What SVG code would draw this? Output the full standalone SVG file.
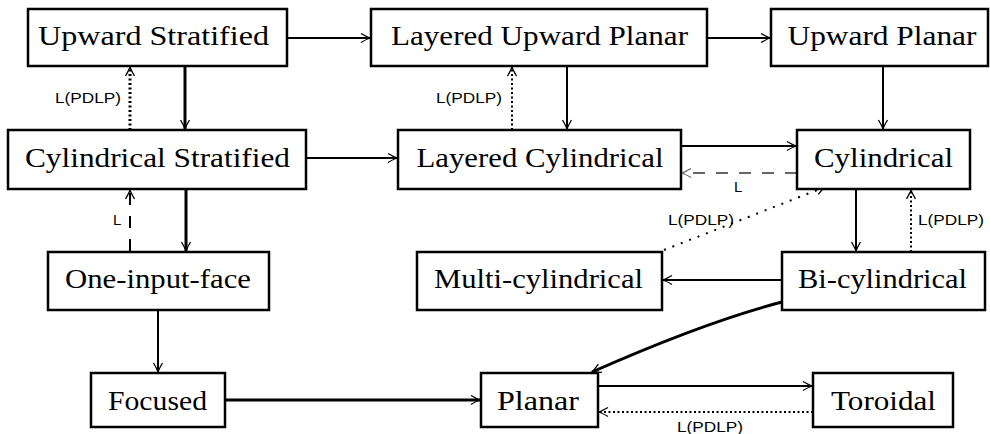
<svg xmlns="http://www.w3.org/2000/svg" width="990" height="434" viewBox="0 0 990 434">
<style>
.box{fill:#fff;stroke:#000;stroke-width:2.5}
.t{font-family:"Liberation Serif",serif;font-size:28px;text-anchor:middle;fill:#000}
.lb{font-family:"Liberation Sans",Arial,sans-serif;font-size:15px;fill:#000}
.e{fill:none;stroke:#000;stroke-width:2}
.thick{stroke-width:3}
.dot{stroke-dasharray:2 2.5}
.dotw{stroke-dasharray:2 7}
.dash{stroke-dasharray:12 11}
.gray{stroke:#666}
</style>
<defs>
<marker id="a" markerUnits="userSpaceOnUse" markerWidth="14" markerHeight="14" viewBox="-11 -7 14 14" refX="0" refY="0" orient="auto" overflow="visible">
<path d="M-9,-4.5 Q-3,-1 0,0 Q-3,1 -9,4.5" fill="none" stroke="#000" stroke-width="1.3"/>
</marker>
<marker id="ag" markerUnits="userSpaceOnUse" markerWidth="14" markerHeight="14" viewBox="-11 -7 14 14" refX="0" refY="0" orient="auto" overflow="visible">
<path d="M-9,-4.5 Q-3,-1 0,0 Q-3,1 -9,4.5" fill="none" stroke="#666" stroke-width="1.3"/>
</marker>
</defs>
<rect width="990" height="434" fill="#fff"/>
<g id="connectors">
<line class="e" x1="287" y1="38" x2="370" y2="38" marker-end="url(#a)"/>
<line class="e" x1="707" y1="38" x2="770" y2="38" marker-end="url(#a)"/>
<line class="e thick" x1="185" y1="66" x2="185" y2="129" marker-end="url(#a)"/>
<line class="e thick dot" x1="130" y1="130" x2="130" y2="67" marker-end="url(#a)"/>
<line class="e" x1="567" y1="66" x2="567" y2="129" marker-end="url(#a)"/>
<line class="e dot" x1="512" y1="130" x2="512" y2="67" marker-end="url(#a)"/>
<line class="e" x1="883" y1="66" x2="883" y2="129" marker-end="url(#a)"/>
<line class="e" x1="306" y1="158" x2="397" y2="158" marker-end="url(#a)"/>
<line class="e" x1="681" y1="146" x2="796" y2="146" marker-end="url(#a)"/>
<line class="e dash gray" x1="797" y1="173" x2="682" y2="173" marker-end="url(#ag)"/>
<line class="e thick" x1="186" y1="189" x2="186" y2="251" marker-end="url(#a)"/>
<line class="e dash" x1="130" y1="251" x2="130" y2="190" marker-end="url(#a)"/>
<line class="e" x1="158" y1="310" x2="158" y2="372" marker-end="url(#a)"/>
<line class="e thick" x1="225" y1="400" x2="480" y2="400" marker-end="url(#a)"/>
<line class="e" x1="856" y1="189" x2="856" y2="251" marker-end="url(#a)"/>
<line class="e dot" x1="911" y1="252" x2="911" y2="190" marker-end="url(#a)"/>
<line class="e" x1="782" y1="280" x2="663" y2="280" marker-end="url(#a)"/>
<line class="e dotw" x1="664" y1="250" x2="825" y2="187" marker-end="url(#a)"/>
<path class="e thick" d="M782,302 Q705,322 592,372" marker-end="url(#a)"/>
<line class="e" x1="598" y1="386" x2="812" y2="386" marker-end="url(#a)"/>
<line class="e dot" x1="813" y1="412" x2="599" y2="412" marker-end="url(#a)"/>
<text class="lb" x="55" y="103" textLength="66" lengthAdjust="spacingAndGlyphs">L(PDLP)</text>
<text class="lb" x="436" y="103" textLength="66" lengthAdjust="spacingAndGlyphs">L(PDLP)</text>
<text class="lb" x="734" y="192">L</text>
<text class="lb" x="113" y="225">L</text>
<text class="lb" x="668" y="225" textLength="66" lengthAdjust="spacingAndGlyphs">L(PDLP)</text>
<text class="lb" x="918" y="225" textLength="66" lengthAdjust="spacingAndGlyphs">L(PDLP)</text>
<text class="lb" x="677" y="432" textLength="66" lengthAdjust="spacingAndGlyphs">L(PDLP)</text>
</g>
<g id="upward-stratified"><rect class="box" x="28" y="9" width="259" height="57"/><text class="t" x="153.5" y="45" textLength="231" lengthAdjust="spacingAndGlyphs">Upward Stratified</text></g>
<g id="layered-upward-planar"><rect class="box" x="371" y="9" width="336" height="57"/><text class="t" x="539.5" y="45" textLength="297" lengthAdjust="spacingAndGlyphs">Layered Upward Planar</text></g>
<g id="upward-planar"><rect class="box" x="771" y="9" width="217" height="57"/><text class="t" x="882" y="45" textLength="189" lengthAdjust="spacingAndGlyphs">Upward Planar</text></g>
<g id="cylindrical-stratified"><rect class="box" x="8" y="130" width="298" height="59"/><text class="t" x="157.5" y="167" textLength="265" lengthAdjust="spacingAndGlyphs">Cylindrical Stratified</text></g>
<g id="layered-cylindrical"><rect class="box" x="398" y="130" width="283" height="59"/><text class="t" x="540" y="167" textLength="247" lengthAdjust="spacingAndGlyphs">Layered Cylindrical</text></g>
<g id="cylindrical"><rect class="box" x="797" y="130" width="173" height="59"/><text class="t" x="883.5" y="167" textLength="139" lengthAdjust="spacingAndGlyphs">Cylindrical</text></g>
<g id="one-input-face"><rect class="box" x="48" y="252" width="221" height="58"/><text class="t" x="158" y="288" textLength="186" lengthAdjust="spacingAndGlyphs">One-input-face</text></g>
<g id="multi-cylindrical"><rect class="box" x="417" y="252" width="245" height="58"/><text class="t" x="538.5" y="288" textLength="209" lengthAdjust="spacingAndGlyphs">Multi-cylindrical</text></g>
<g id="bi-cylindrical"><rect class="box" x="782" y="252" width="203" height="58"/><text class="t" x="882.5" y="288" textLength="169" lengthAdjust="spacingAndGlyphs">Bi-cylindrical</text></g>
<g id="focused"><rect class="box" x="91" y="373" width="134" height="54"/><text class="t" x="157.5" y="410" textLength="99" lengthAdjust="spacingAndGlyphs">Focused</text></g>
<g id="planar"><rect class="box" x="481" y="373" width="117" height="54"/><text class="t" x="538" y="410" textLength="82" lengthAdjust="spacingAndGlyphs">Planar</text></g>
<g id="toroidal"><rect class="box" x="813" y="373" width="140" height="54"/><text class="t" x="883.5" y="410" textLength="105" lengthAdjust="spacingAndGlyphs">Toroidal</text></g>
</svg>
